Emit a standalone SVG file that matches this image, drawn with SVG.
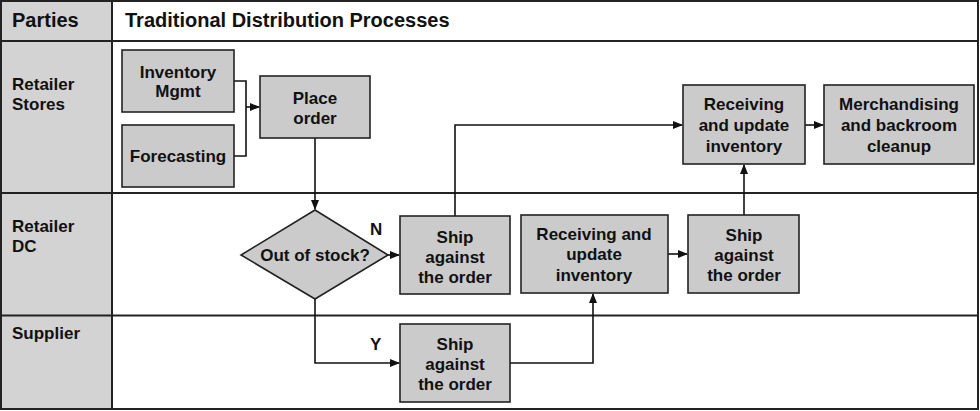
<svg xmlns="http://www.w3.org/2000/svg" width="980" height="411" viewBox="0 0 980 411">
<style>
.lane{fill:#d3d3d3;stroke:none}
.grid{stroke:#222;stroke-width:2;fill:none}
.box{fill:#cbcbcb;stroke:#222;stroke-width:1.6}
.t{font-family:"Liberation Sans",Arial,sans-serif;font-weight:bold;font-size:17px;fill:#111;text-anchor:middle}
.l{font-family:"Liberation Sans",Arial,sans-serif;font-weight:bold;font-size:17px;fill:#111}
.h{font-family:"Liberation Sans",Arial,sans-serif;font-weight:bold;font-size:20px;fill:#111}
.c{fill:none;stroke:#111;stroke-width:1.6}
</style>
<defs>
<marker id="ah" markerWidth="10" markerHeight="8" refX="9" refY="4" orient="auto" markerUnits="userSpaceOnUse">
<path d="M0,0 L10,4 L0,8 z" fill="#111"/>
</marker>
</defs>
<rect x="0" y="0" width="980" height="411" fill="#fff"/>
<g id="lanes">
<rect class="lane" x="1" y="1" width="111" height="408"/>
<text class="h" x="12" y="27">Parties</text>
<text class="h" x="125" y="27">Traditional Distribution Processes</text>
<text class="l" x="12" y="90">Retailer</text>
<text class="l" x="12" y="110">Stores</text>
<text class="l" x="12" y="232">Retailer</text>
<text class="l" x="12" y="252">DC</text>
<text class="l" x="12" y="339">Supplier</text>
<path class="grid" d="M1,1 H978 V409 H1 Z M112,1 V409 M1,41 H978 M1,193 H978 M1,315.5 H978"/>
</g>
<g id="connectors">
<path class="c" d="M234,81 H246 V156 H234"/>
<path class="c" d="M246,107 H259" marker-end="url(#ah)"/>
<path class="c" d="M315,138 V209" marker-end="url(#ah)"/>
<path class="c" d="M388,255 H399" marker-end="url(#ah)"/>
<path class="c" d="M315,299 V363 H399" marker-end="url(#ah)"/>
<path class="c" d="M455,216 V125 H682" marker-end="url(#ah)"/>
<path class="c" d="M510,363 H593 V294" marker-end="url(#ah)"/>
<path class="c" d="M668,254 H687" marker-end="url(#ah)"/>
<path class="c" d="M744,215 V165" marker-end="url(#ah)"/>
<path class="c" d="M805,125 H823" marker-end="url(#ah)"/>
<text class="l" x="370" y="235">N</text>
<text class="l" x="370" y="350">Y</text>
</g>
<g id="inventory-mgmt">
<rect class="box" x="122" y="50" width="112" height="62"/>
<text class="t" x="178" y="78">Inventory</text>
<text class="t" x="178" y="97">Mgmt</text>
</g>
<g id="forecasting">
<rect class="box" x="122" y="125" width="112" height="62"/>
<text class="t" x="178" y="162">Forecasting</text>
</g>
<g id="place-order">
<rect class="box" x="260" y="76" width="110" height="62"/>
<text class="t" x="315" y="104">Place</text>
<text class="t" x="315" y="124">order</text>
</g>
<g id="out-of-stock">
<path class="box" d="M315,210 L388,255 L315,299 L241,255 Z"/>
<text class="t" x="315" y="261">Out of stock?</text>
</g>
<g id="dc-ship-1">
<rect class="box" x="400" y="216" width="110" height="78"/>
<text class="t" x="455" y="243">Ship</text>
<text class="t" x="455" y="263">against</text>
<text class="t" x="455" y="283">the order</text>
</g>
<g id="supplier-ship">
<rect class="box" x="400" y="324" width="110" height="78"/>
<text class="t" x="455" y="350">Ship</text>
<text class="t" x="455" y="370">against</text>
<text class="t" x="455" y="390">the order</text>
</g>
<g id="dc-receiving">
<rect class="box" x="521" y="215" width="147" height="78"/>
<text class="t" x="594" y="240">Receiving and</text>
<text class="t" x="594" y="260">update</text>
<text class="t" x="594" y="281">inventory</text>
</g>
<g id="dc-ship-2">
<rect class="box" x="688" y="215" width="111" height="78"/>
<text class="t" x="744" y="241">Ship</text>
<text class="t" x="744" y="261">against</text>
<text class="t" x="744" y="281">the order</text>
</g>
<g id="store-receiving">
<rect class="box" x="683" y="85" width="122" height="79"/>
<text class="t" x="744" y="110">Receiving</text>
<text class="t" x="744" y="131">and update</text>
<text class="t" x="744" y="152">inventory</text>
</g>
<g id="merchandising">
<rect class="box" x="824" y="85" width="150" height="79"/>
<text class="t" x="899" y="110">Merchandising</text>
<text class="t" x="899" y="131">and backroom</text>
<text class="t" x="899" y="152">cleanup</text>
</g>
</svg>
